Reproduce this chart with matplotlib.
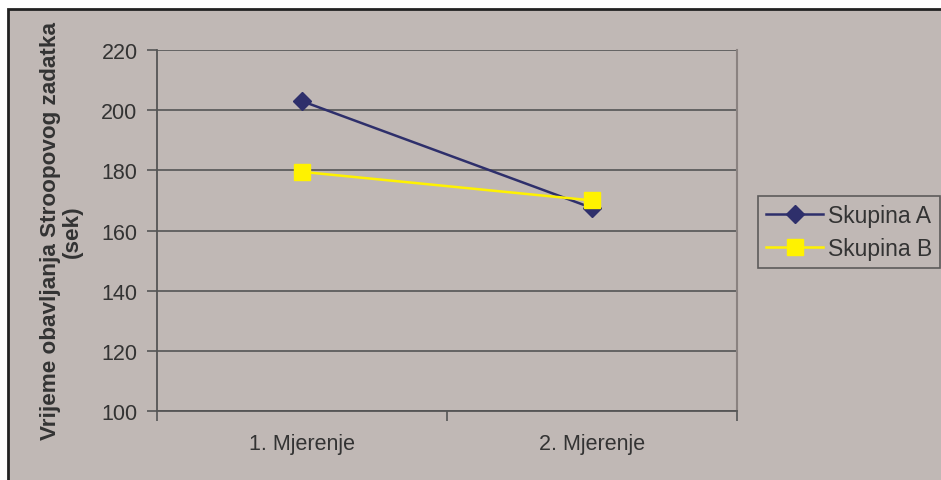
import matplotlib.pyplot as plt
from matplotlib.patches import Rectangle

# Podaci
mjerenja = ['1. Mjerenje', '2. Mjerenje']
skupina_a = [203, 167.5]
skupina_b = [179.5, 170]
yticks = [100, 120, 140, 160, 180, 200, 220]

plt.rcParams['font.family'] = ['Liberation Sans', 'DejaVu Sans']
bg = '#c0b8b5'
txt = '#333333'
fs = 15.5

fig = plt.figure(figsize=(9.41, 4.81), dpi=100, facecolor='white')
W, H = 941, 481

# siva pozadina s crnim rubom
fig.patches.append(Rectangle((8 / W, -0.01), 1.01, 1 - 10 / H + 0.01,
                             transform=fig.transFigure, facecolor=bg,
                             edgecolor='#222222', linewidth=2, zorder=-5))

ax = fig.add_axes([157 / W, 1 - 412 / H, 580 / W, 361 / H])
ax.set_facecolor(bg)

x = range(len(mjerenja))
ax.plot(x, skupina_a, color='#2e2f6b', lw=1.8, marker='D', ms=9,
        label='Skupina A', zorder=3)
ax.plot(x, skupina_b, color='#fff200', lw=1.8, marker='s', ms=11,
        label='Skupina B', zorder=3)

ax.set_xlim(-0.5, 1.5)
ax.set_ylim(100, 220)
ax.set_yticks(yticks)
ax.set_xticks(list(x))
ax.set_xticklabels(mjerenja)
ax.set_xticks([-0.5, 0.5, 1.5], minor=True)
ax.tick_params(axis='x', which='major', length=0, pad=16, labelsize=fs,
               labelcolor=txt)
ax.tick_params(axis='x', which='minor', length=7, color='#555555', width=1.2)
ax.tick_params(axis='y', length=7, color='#555555', width=1.2, pad=7,
               labelsize=fs, labelcolor=txt)
ax.grid(axis='y', color='#555555', lw=1.2)
ax.set_axisbelow(True)

for s in ['left', 'bottom']:
    ax.spines[s].set_color('#555555')
    ax.spines[s].set_linewidth(1.3)
ax.spines['top'].set_visible(False)
ax.spines['right'].set_color('#8a8280')
ax.spines['right'].set_linewidth(1.5)

ax.set_ylabel('Vrijeme obavljanja Stroopovog zadatka\n(sek)',
              fontsize=16.2, fontweight='bold', color=txt, labelpad=13,
              linespacing=1.05)

leg = fig.legend(loc='upper left', bbox_to_anchor=(758 / W, 1 - 197 / H),
                 fontsize=16.5, frameon=True, fancybox=False,
                 handlelength=2.5, borderpad=0.35, labelspacing=0.45,
                 handletextpad=0.2, borderaxespad=0)
leg.get_frame().set_facecolor(bg)
leg.get_frame().set_edgecolor('#444444')
leg.get_frame().set_linewidth(1.2)
for t in leg.get_texts():
    t.set_color(txt)

fig.savefig('out.png', dpi=100, facecolor=fig.get_facecolor())
